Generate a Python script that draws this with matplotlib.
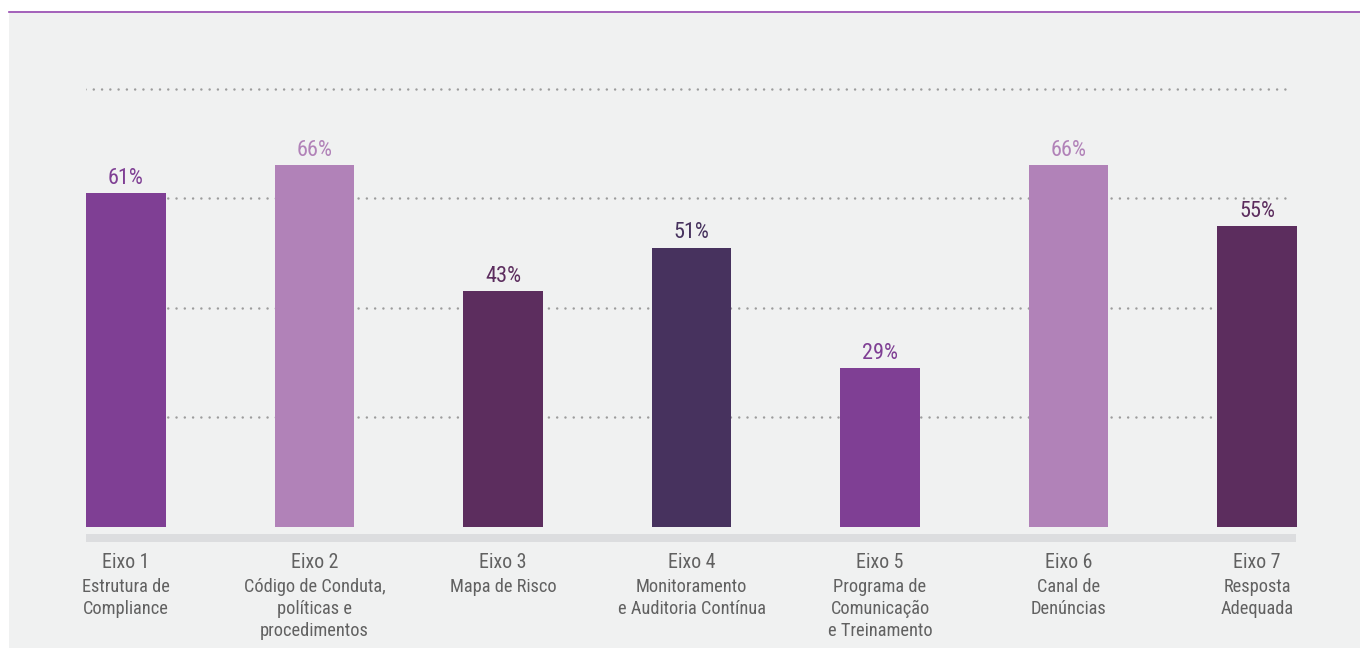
import matplotlib
matplotlib.use("Agg")
import matplotlib.pyplot as plt
from matplotlib import font_manager as fm
from matplotlib.patches import Rectangle
from matplotlib.lines import Line2D

# Data
eixos = ["Eixo 1", "Eixo 2", "Eixo 3", "Eixo 4", "Eixo 5", "Eixo 6", "Eixo 7"]
descricoes = [
    ["Estrutura de", "Compliance"],
    ["Código de Conduta,", "políticas e", "procedimentos"],
    ["Mapa de Risco"],
    ["Monitoramento", "e Auditoria Contínua"],
    ["Programa de", "Comunicação", "e Treinamento"],
    ["Canal de", "Denúncias"],
    ["Resposta", "Adequada"],
]
valores = [61, 66, 43, 51, 29, 66, 55]
grid_values = [20, 40, 60, 80]

cores = ["#7f3f94", "#b182b8", "#5c2d5e", "#47325e", "#7f3f94", "#b182b8", "#5c2d5e"]

# Condensed sans-serif, first one installed
available = {f.name for f in fm.fontManager.ttflist}
FONT = [f for f in ["Roboto Condensed", "Archivo Narrow", "Liberation Sans Narrow",
                    "Barlow Semi Condensed", "Liberation Sans"] if f in available]
FONT.append("DejaVu Sans")
plt.rcParams["font.family"] = FONT
TEXT_GREY = "#616161"

W, H = 1360, 648
fig = plt.figure(figsize=(W / 100, H / 100), dpi=100)
fig.patch.set_facecolor("white")

# Background panel and purple rule at the top
fig.patches.append(Rectangle((9 / W, 0), 1 - 9 / W, (H - 13) / H,
                             transform=fig.transFigure, facecolor="#f0f1f1",
                             edgecolor="none", zorder=-10))
fig.lines.append(Line2D([9 / W, 1], [(H - 12) / H] * 2, transform=fig.transFigure,
                        color="#9446ae", linewidth=1.2, zorder=-9))

# Axes geometry (pixels)
px_left, px_right = 86, 1297
px_zero = 527
px_per_unit = 5.48
px_top, px_bottom = 60, 548
bar_w = 0.424

ymin = -(px_bottom - px_zero) / px_per_unit
ymax = (px_zero - px_top) / px_per_unit

ax = fig.add_axes([px_left / W, (H - px_bottom) / H,
                   (px_right - px_left) / W, (px_bottom - px_top) / H])
ax.set_zorder(1)
ax.set_facecolor("none")
n = len(valores)
ax.set_xlim(-bar_w / 2, n - 1 + bar_w / 2)
ax.set_ylim(ymin, ymax)
ax.axis("off")

# Dotted gridlines
unit_px = (px_right - px_left) / (n - 1 + bar_w)
gx0 = -bar_w / 2 - 1 / unit_px
gx1 = n - 1 + bar_w / 2 - 4 / unit_px
for g in grid_values:
    ax.plot([gx0, gx1], [g, g], color="#9c9c9c", linewidth=1.8,
            linestyle=(0, (0.01, 3.3)), dash_capstyle="round", zorder=1)

# Bars
x = list(range(n))
ax.bar(x, valores, width=bar_w, color=cores, zorder=2)

# Baseline band
ax.axhspan(-(542 - px_zero) / px_per_unit, -(534 - px_zero) / px_per_unit,
           xmin=0, xmax=0.999, color="#dcdddf", linewidth=0, zorder=2)

# Value labels
for xi, v, c in zip(x, valores, cores):
    ax.annotate(f"{v}%", xy=(xi, v), xytext=(0, 6.5), textcoords="offset points",
                ha="center", va="baseline", fontsize=16, color=c)

# Category labels
for xi, eixo, desc in zip(x, eixos, descricoes):
    ax.annotate(eixo, xy=(xi, 0), xytext=(0, -41 * 0.72), textcoords="offset points",
                ha="center", va="baseline", fontsize=14.3, color=TEXT_GREY,
                annotation_clip=False)
    for k, line in enumerate(desc):
        off = -(64.5 + 22 * k) * 0.72
        ax.annotate(line, xy=(xi, 0), xytext=(0, off), textcoords="offset points",
                    ha="center", va="baseline", fontsize=13.2, color=TEXT_GREY,
                    annotation_clip=False)

fig.savefig("out.png", dpi=100, facecolor=fig.get_facecolor())
